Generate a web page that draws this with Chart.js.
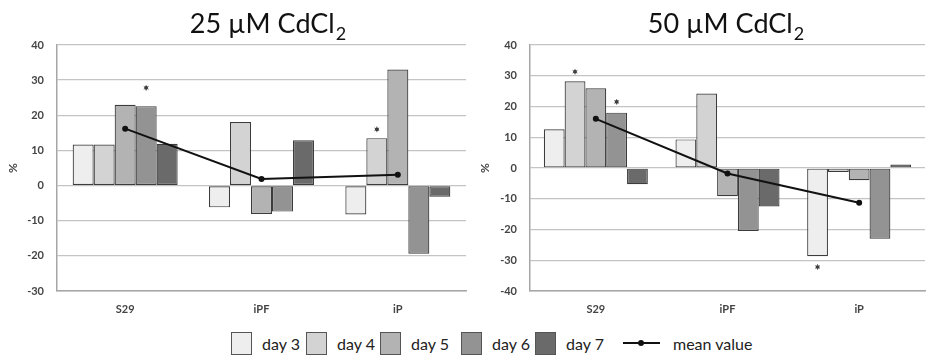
<!DOCTYPE html>
<html>
<head>
<meta charset="utf-8">
<script src="https://cdn.jsdelivr.net/npm/chart.js@4"></script>
<style>
    body { margin: 0; background: #fff; width: 929px; height: 357px; overflow: hidden; position: relative; font-family: Lato, "Open Sans", sans-serif; }
    .caja { position: absolute; top: 0; height: 322px; }
    #caja25 { left: 0; width: 470px; }
    #caja50 { left: 462px; width: 467px; }
    .leyenda { position: absolute; top: 331px; height: 24px; display: flex; align-items: center; font-size: 16px; color: #222; }
    .muestra { width: 19px; height: 21px; border: 1px solid #555; box-sizing: content-box; margin-right: 10px; }
    .linea { position: relative; width: 37px; height: 2px; background: #111; margin-right: 13px; }
    .linea::after { content: ''; position: absolute; left: 15px; top: -2px; width: 6px; height: 6px; border-radius: 50%; background: #111; }
</style>
</head>
<body>
<div class="caja" id="caja25"><canvas id="chart-25"></canvas></div>
<div class="caja" id="caja50"><canvas id="chart-50"></canvas></div>
<div id="leyenda"></div>

<script>
// Categorías y series
const categorias = ['S29', 'iPF', 'iP'];
const etiquetasDias = ['day 3', 'day 4', 'day 5', 'day 6', 'day 7'];
const coloresDias = ['#eeeeee', '#d3d3d3', '#b3b3b3', '#939393', '#6a6a6a'];

// 25 µM CdCl2
const d25Dia3 = [11.7, -6.2, -8.2];
const d25Dia4 = [11.7, 18.1, 13.5];
const d25Dia5 = [23.0, -8.1, 33.0];
const d25Dia6 = [22.6, -7.4, -19.4];
const d25Dia7 = [11.9, 12.9, -3.2];
const d25Media = [16.2, 1.9, 3.1];
// asteriscos: [categoria, dia, valor y]
const d25Asteriscos = [[0, 3, 27.8], [2, 1, 16.0]];

// 50 µM CdCl2
const d50Dia3 = [12.6, 9.3, -28.7];
const d50Dia4 = [28.2, 24.2, -1.3];
const d50Dia5 = [25.9, -9.2, -4.0];
const d50Dia6 = [18.0, -20.5, -23.0];
const d50Dia7 = [-5.3, -12.5, 1.1];
const d50Media = [16.0, -1.8, -11.3];
const d50Asteriscos = [[0, 1, 31.3], [0, 3, 21.5], [2, 0, -32.2]];

const FUENTE = 'Lato, "Open Sans", sans-serif';

/**
 * Plugin: título con subíndice centrado sobre el área del gráfico
 */
const pluginTitulo = {
    id: 'tituloSub',
    afterDraw(chart, args, opts) {
        const ctx = chart.ctx;
        const area = chart.chartArea;
        ctx.save();
        ctx.fillStyle = '#111';
        ctx.textBaseline = 'alphabetic';
        ctx.font = '27px ' + FUENTE;
        const principal = opts.texto;
        const anchoP = ctx.measureText(principal).width;
        ctx.font = '18px ' + FUENTE;
        const anchoS = ctx.measureText('2').width;
        const x0 = (area.left + area.right) / 2 - (anchoP + anchoS) / 2 + (opts.dx || 0);
        ctx.font = '27px ' + FUENTE;
        ctx.textAlign = 'left';
        ctx.fillText(principal, x0, 33);
        ctx.font = '18px ' + FUENTE;
        ctx.fillText('2', x0 + anchoP + 1, 40);
        ctx.restore();
    }
};

/**
 * Plugin: asteriscos de significancia
 */
const pluginAsteriscos = {
    id: 'asteriscos',
    afterDatasetsDraw(chart, args, opts) {
        const ctx = chart.ctx;
        const escalaY = chart.scales.y;
        ctx.save();
        ctx.fillStyle = '#222';
        (opts.marcas || []).forEach(m => {
            const barra = chart.getDatasetMeta(m[1]).data[m[0]];
            const y = escalaY.getPixelForValue(m[2]);
            ctx.beginPath();
            ctx.arc(barra.x, y, 1.8, 0, Math.PI * 2);
            ctx.fill();
            ctx.strokeStyle = '#444';
            ctx.lineWidth = 0.8;
            for (let i = 0; i < 3; i++) {
                const a = Math.PI / 2 + i * Math.PI / 3;
                ctx.beginPath();
                ctx.moveTo(barra.x - Math.cos(a) * 2.8, y - Math.sin(a) * 2.8);
                ctx.lineTo(barra.x + Math.cos(a) * 2.8, y + Math.sin(a) * 2.8);
                ctx.stroke();
            }
        });
        ctx.restore();
    }
};

function crearGrafico(idCanvas, series, media, asteriscos, config) {
    const datasets = series.map((valores, i) => ({
        type: 'bar',
        label: etiquetasDias[i],
        data: valores,
        backgroundColor: coloresDias[i],
        borderColor: '#3c3c3c',
        borderWidth: 1.2,
        borderSkipped: false,
        categoryPercentage: config.anchoGrupo,
        barPercentage: 1.0,
        order: 1
    }));

    datasets.push({
        type: 'line',
        label: 'mean value',
        data: media,
        borderColor: '#111',
        backgroundColor: '#111',
        borderWidth: 2,
        pointRadius: 3,
        pointBackgroundColor: '#111',
        pointBorderWidth: 0,
        tension: 0,
        order: 0
    });

    return new Chart(document.getElementById(idCanvas), {
        type: 'bar',
        data: {
            labels: categorias,
            datasets: datasets
        },
        plugins: [pluginTitulo, pluginAsteriscos],
        options: {
            responsive: true,
            maintainAspectRatio: false,
            animation: false,
            layout: {
                padding: { top: 45, right: config.padDer, left: 0, bottom: 0 }
            },
            plugins: {
                legend: { display: false },
                tooltip: { enabled: false },
                tituloSub: { texto: config.titulo, dx: config.dx },
                asteriscos: { marcas: asteriscos }
            },
            scales: {
                x: {
                    grid: { display: false, drawTicks: false },
                    border: { display: true, color: '#a6a6a6', width: 1.5 },
                    ticks: {
                        padding: 12,
                        color: '#444',
                        font: { family: FUENTE, size: 11, weight: 'bold' }
                    },
                    afterFit(scale) { scale.height = 31; }
                },
                y: {
                    min: config.min,
                    max: 40,
                    ticks: {
                        stepSize: 10,
                        padding: 13,
                        color: '#444',
                        font: { family: FUENTE, size: 11, weight: 'bold' }
                    },
                    grid: { color: '#c4c4c4', lineWidth: 1.3, drawTicks: false },
                    border: { display: true, color: '#a6a6a6', width: 1.5 },
                    title: {
                        display: true,
                        text: '%',
                        color: '#444',
                        font: { family: FUENTE, size: 12, weight: 'bold' },
                        padding: { top: config.padTitulo, bottom: 0 }
                    },
                    afterFit(scale) { scale.width = config.anchoY; }
                }
            }
        }
    });
}

crearGrafico('chart-25',
    [d25Dia3, d25Dia4, d25Dia5, d25Dia6, d25Dia7], d25Media, d25Asteriscos,
    { titulo: '25 µM CdCl', min: -30, anchoGrupo: 0.77, anchoY: 57, padDer: 3, padTitulo: 6, dx: 6 });

crearGrafico('chart-50',
    [d50Dia3, d50Dia4, d50Dia5, d50Dia6, d50Dia7], d50Media, d50Asteriscos,
    { titulo: '50 µM CdCl', min: -40, anchoGrupo: 0.79, anchoY: 68, padDer: 0, padTitulo: 16, dx: -2 });

// Leyenda compartida
const posicionesLeyenda = [231, 306, 380, 461, 535];
const leyenda = document.getElementById('leyenda');
etiquetasDias.forEach((etiqueta, i) => {
    const item = document.createElement('div');
    item.className = 'leyenda';
    item.style.left = posicionesLeyenda[i] + 'px';
    item.innerHTML = '<div class="muestra" style="background:' + coloresDias[i] + '"></div><span>' + etiqueta + '</span>';
    leyenda.appendChild(item);
});
const itemMedia = document.createElement('div');
itemMedia.className = 'leyenda';
itemMedia.style.left = '623px';
itemMedia.innerHTML = '<div class="linea"></div><span>mean value</span>';
leyenda.appendChild(itemMedia);
</script>
</body>
</html>
